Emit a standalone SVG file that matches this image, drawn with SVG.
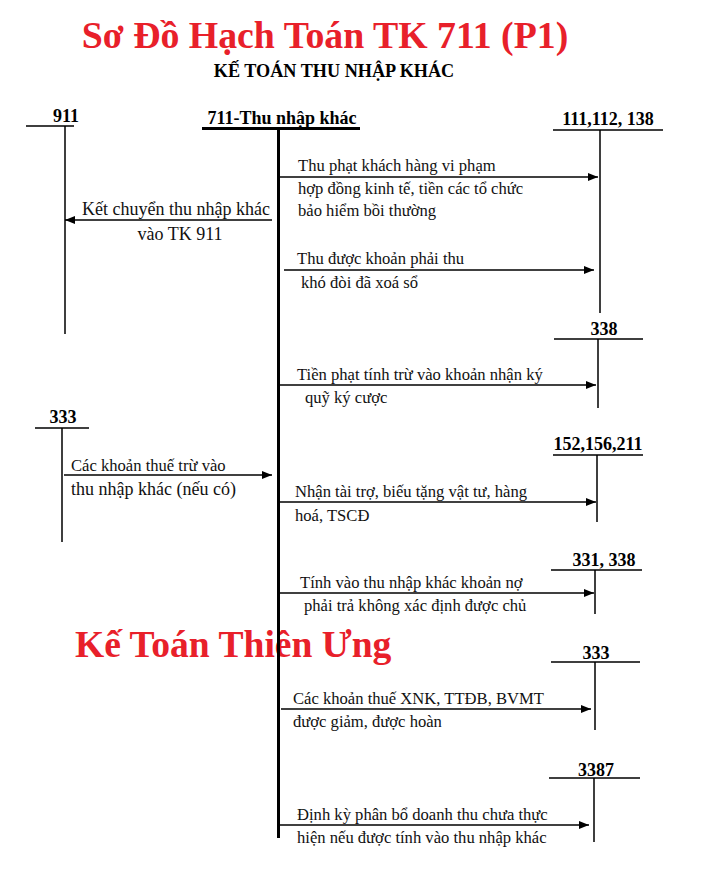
<svg xmlns="http://www.w3.org/2000/svg" width="705" height="869" viewBox="0 0 705 869">
<defs>
<marker id="ah" viewBox="0 0 10 10" refX="10" refY="5" markerWidth="10" markerHeight="10" markerUnits="userSpaceOnUse" orient="auto">
<path d="M0,1 L10,5 L0,9 z" fill="#000"/>
</marker>
</defs>
<style>
.t{font-family:"Liberation Serif","Times New Roman",serif;font-size:16.6px;fill:#111}
.acc{font-family:"Liberation Serif","Times New Roman",serif;font-size:18px;font-weight:bold;fill:#000}
.red{font-family:"Liberation Serif","Times New Roman",serif;font-weight:bold;fill:#e8202a}
.ln{stroke:#000;stroke-width:1.5;fill:none}
.th{stroke:#000;stroke-width:3;fill:none}
.ar{stroke:#000;stroke-width:1.3;fill:none;marker-end:url(#ah)}
</style>
<rect width="705" height="869" fill="#fff"/>
<text class="red" x="325" y="48" text-anchor="middle" style="font-size:37.8px">Sơ Đồ Hạch Toán TK 711 (P1)</text>
<text class="acc" x="334" y="77" text-anchor="middle" style="font-size:18.2px">KẾ TOÁN THU NHẬP KHÁC</text>
<text class="red" x="75" y="657" style="font-size:37.6px">Kế Toán Thiên Ưng</text>

<g id="acc711"><text class="acc" x="282" y="124" text-anchor="middle">711-Thu nhập khác</text><path class="th" d="M202,128.5 H360 M278.5,128 V838"/></g>
<g id="acc911"><text class="acc" x="66" y="122" text-anchor="middle">911</text><path class="ln" d="M26,126 H74 M65,126 V334"/></g>
<g id="acc111"><text class="acc" x="608" y="125" text-anchor="middle">111,112, 138</text><path class="ln" d="M553,130 H663 M600,130 V313"/></g>
<g id="acc338"><text class="acc" x="604" y="335" text-anchor="middle">338</text><path class="ln" d="M554,339 H643 M598,339 V408"/></g>
<g id="acc333l"><text class="acc" x="63" y="423" text-anchor="middle">333</text><path class="ln" d="M35,428 H89 M62,428 V542"/></g>
<g id="acc152"><text class="acc" x="598" y="450" text-anchor="middle">152,156,211</text><path class="ln" d="M553,455 H643 M597,455 V522"/></g>
<g id="acc331"><text class="acc" x="604" y="566" text-anchor="middle">331, 338</text><path class="ln" d="M551,570 H642 M595,570 V614"/></g>
<g id="acc333r"><text class="acc" x="596" y="659" text-anchor="middle">333</text><path class="ln" d="M551,662 H640 M595,662 V730"/></g>
<g id="acc3387"><text class="acc" x="596" y="776" text-anchor="middle">3387</text><path class="ln" d="M549,778 H640 M594,778 V842"/></g>

<g id="connectors">
<path class="ar" d="M279,177 H598"/>
<path class="ar" d="M272,220 H65"/>
<path class="ar" d="M284,270 H594"/>
<path class="ar" d="M279,385 H596"/>
<path class="ar" d="M64,475 H272"/>
<path class="ar" d="M279,502 H596"/>
<path class="ar" d="M277,593 H594"/>
<path class="ar" d="M281,709 H591"/>
<path class="ar" d="M279,825 H589"/>
</g>

<g id="labels">
<text class="t" x="298" y="171">Thu phạt khách hàng vi phạm</text>
<text class="t" x="298" y="194">hợp đồng kinh tế, tiền các tổ chức</text>
<text class="t" x="298" y="216">bảo hiểm bồi thường</text>
<text class="t" x="176" y="215" text-anchor="middle" style="font-size:18px">Kết chuyển thu nhập khác</text>
<text class="t" x="180" y="240" text-anchor="middle" style="font-size:18px">vào TK 911</text>
<text class="t" x="297" y="264">Thu được khoản phải thu</text>
<text class="t" x="301" y="288">khó đòi đã xoá sổ</text>
<text class="t" x="297" y="380">Tiền phạt tính trừ vào khoản nhận ký</text>
<text class="t" x="305" y="403">quỹ ký cược</text>
<text class="t" x="71" y="471">Các khoản thuế trừ vào</text>
<text class="t" x="71" y="495" style="font-size:18px">thu nhập khác (nếu có)</text>
<text class="t" x="295" y="497">Nhận tài trợ, biếu tặng vật tư, hàng</text>
<text class="t" x="295" y="521">hoá, TSCĐ</text>
<text class="t" x="300" y="588">Tính vào thu nhập khác khoản nợ</text>
<text class="t" x="304" y="611">phải trả không xác định được chủ</text>
<text class="t" x="293" y="704">Các khoản thuế XNK, TTĐB, BVMT</text>
<text class="t" x="293" y="727">được giảm, được hoàn</text>
<text class="t" x="297" y="820">Định kỳ phân bổ doanh thu chưa thực</text>
<text class="t" x="297" y="843">hiện nếu được tính vào thu nhập khác</text>
</g>
</svg>
